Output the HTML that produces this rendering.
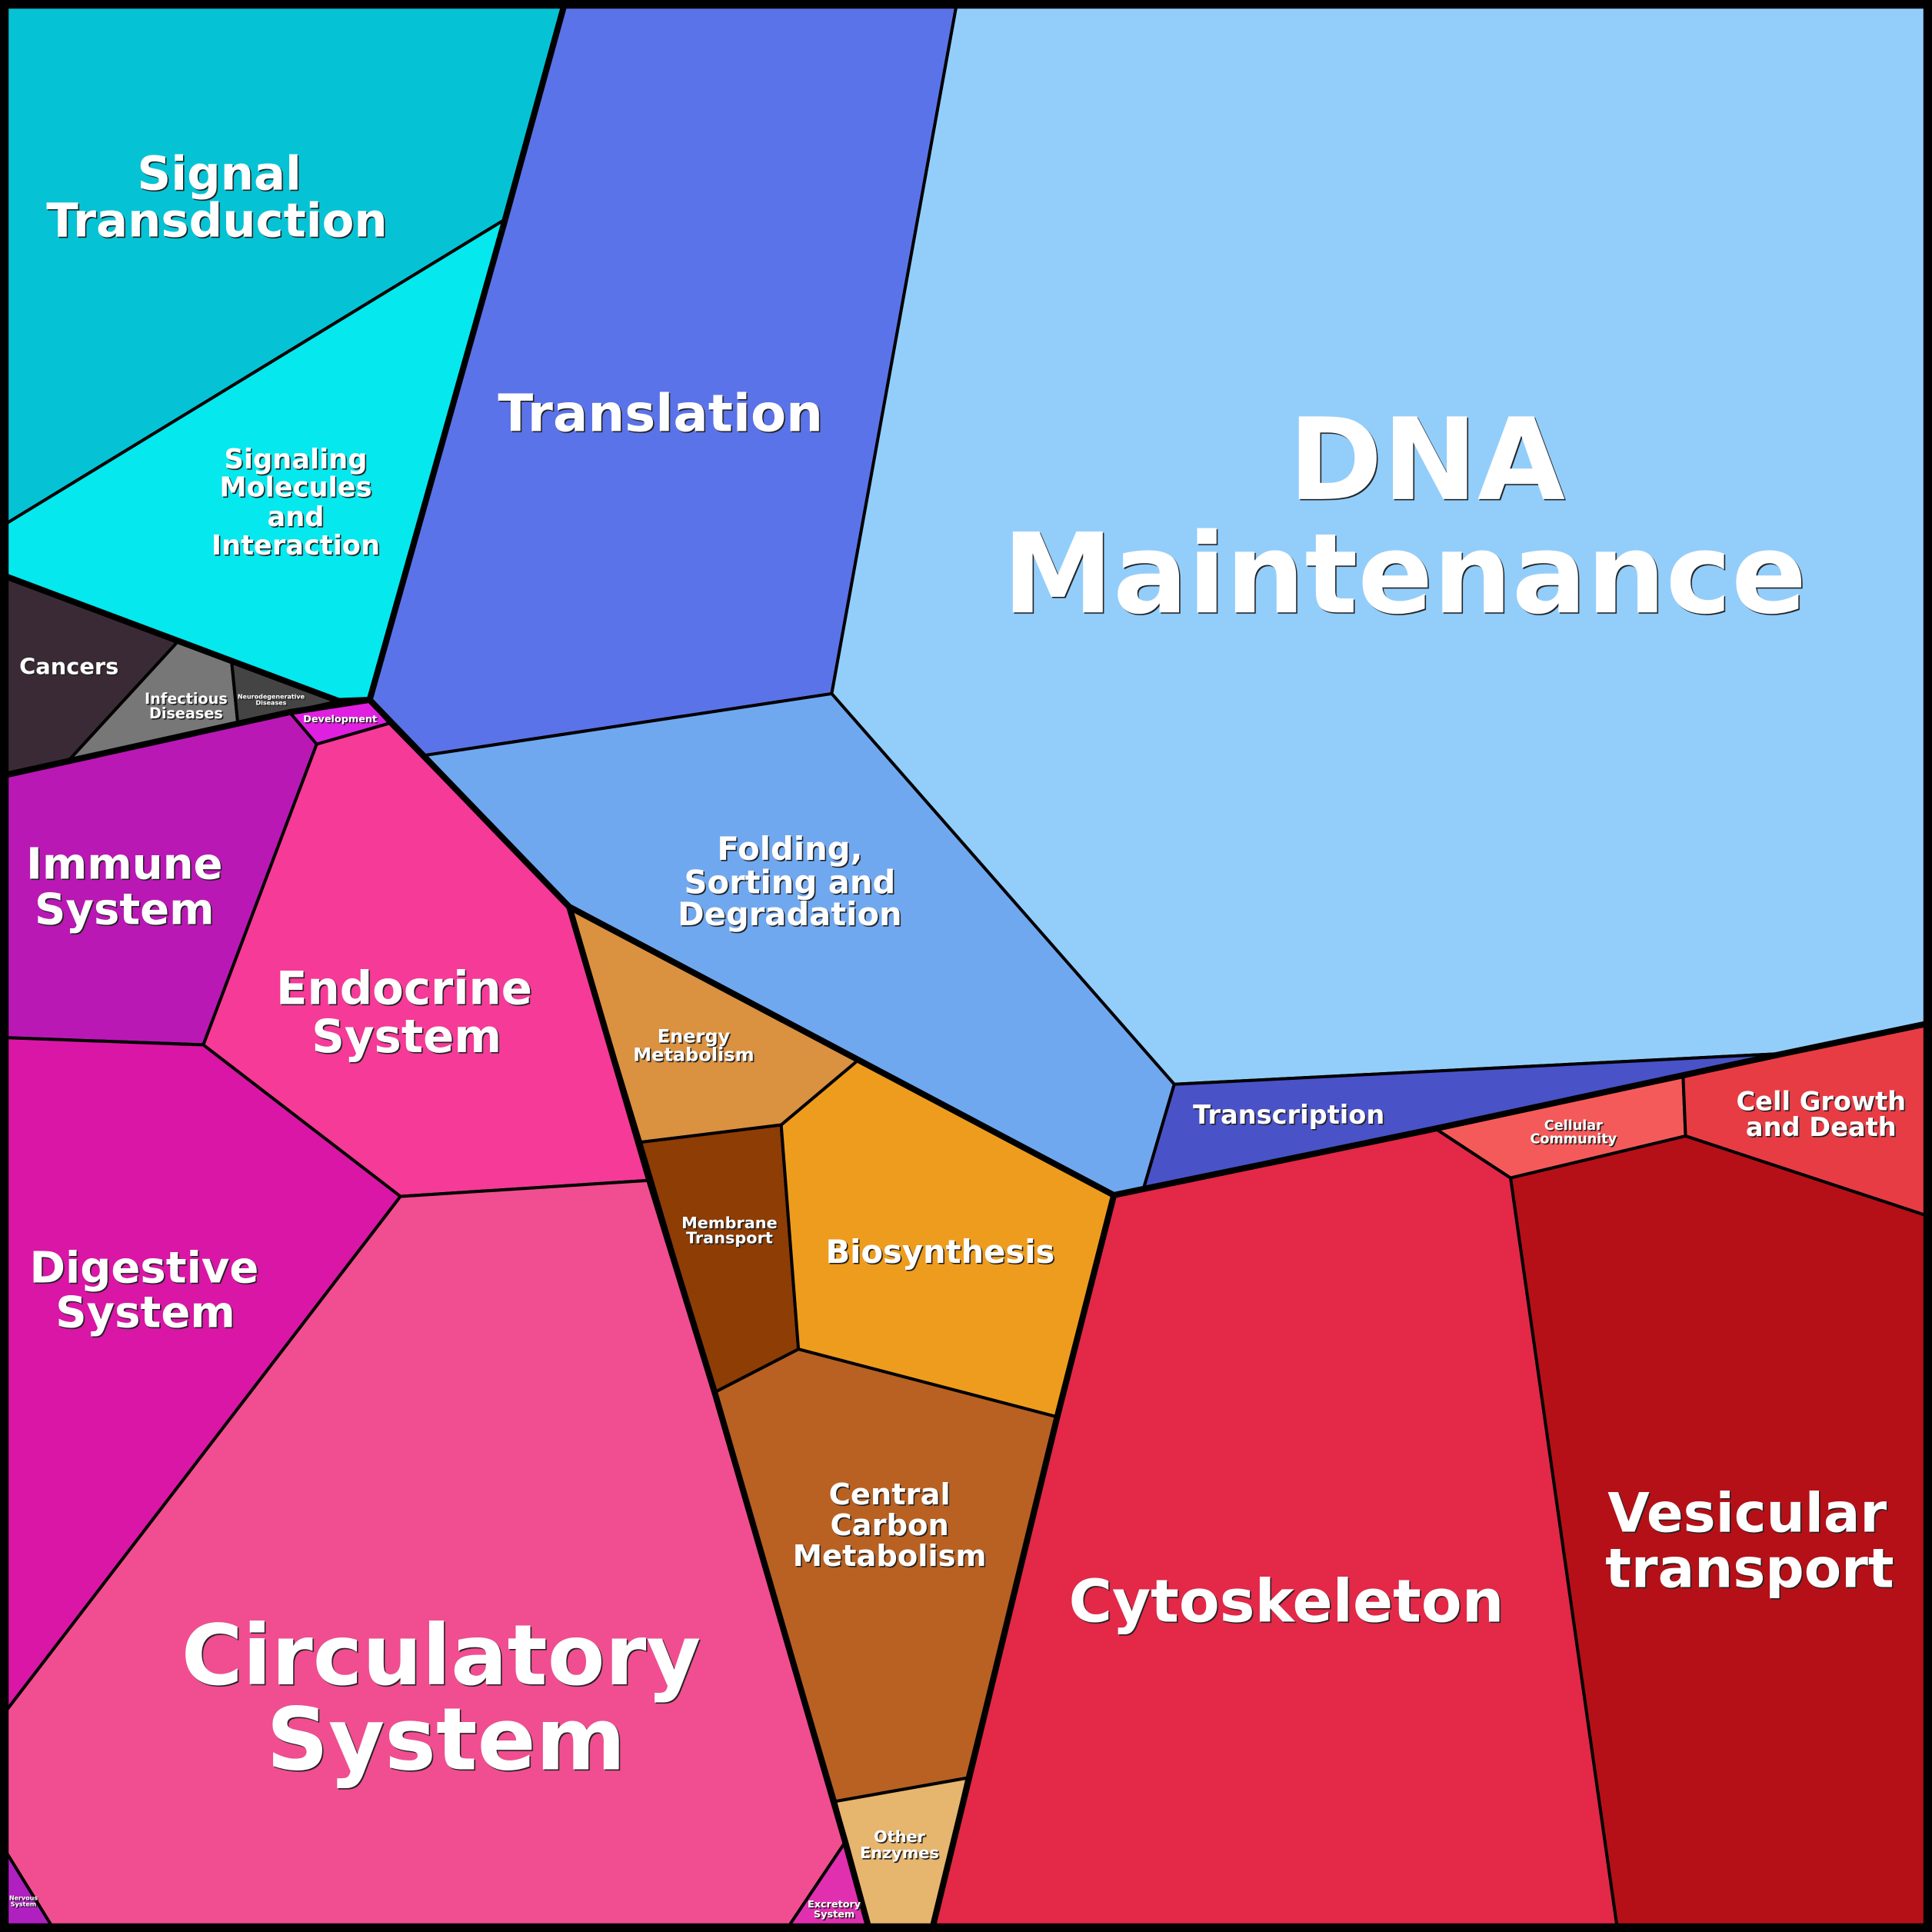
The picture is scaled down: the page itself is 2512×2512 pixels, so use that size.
<!DOCTYPE html>
<html><head><meta charset="utf-8"><style>
html,body{margin:0;padding:0;background:#000}
svg{display:block}
text{font-family:"DejaVu Sans","Liberation Sans",sans-serif;font-weight:bold;fill:#fff;text-anchor:middle}
.t{filter:drop-shadow(1.5px 1.5px 0 #222)}
</style></head><body>
<svg width="2512" height="2512" viewBox="0 0 1568 1568" xmlns="http://www.w3.org/2000/svg">
<g stroke="#000" stroke-width="2.5" stroke-linejoin="round">
<polygon fill="#05c3d5" points="0,0 459,0 410,178 0,428"/>
<polygon fill="#05e8ee" points="0,428 410,178 300,568 275,569 0,466"/>
<polygon fill="#3a2a35" points="0,466 145,520 55,618 0,630"/>
<polygon fill="#777777" points="145,520 188,537 193,587 55,618"/>
<polygon fill="#444444" points="188,537 275,569 235,578 193,587"/>
<polygon fill="#e020e0" points="235,578 300,568 316,587 257,604"/>
<polygon fill="#b918b4" points="0,630 235,578 257,604 165,848 0,842"/>
<polygon fill="#f53a98" points="257,604 316,587 462,736 527,958 325,971 165,848"/>
<polygon fill="#d916a6" points="0,842 165,848 325,971 0,1395"/>
<polygon fill="#f04e90" points="325,971 527,958 580,1130 686,1495 637,1568 45,1568 0,1495 0,1395"/>
<polygon fill="#b020c0" points="0,1495 45,1568 0,1568"/>
<polygon fill="#e030b0" points="686,1495 706,1568 637,1568"/>
<polygon fill="#5b73e8" points="459,0 777,0 675,563 345,613 300,568 410,178"/>
<polygon fill="#93cefb" points="777,0 1568,0 1568,830 1448,855 953,880 675,563"/>
<polygon fill="#70a8f0" points="345,613 675,563 953,880 928,965 904,970 697,860 462,736"/>
<polygon fill="#da9140" points="462,736 697,860 634,913 520,927"/>
<polygon fill="#8e3d05" points="520,927 634,913 648,1095 580,1130"/>
<polygon fill="#ee9c1e" points="634,913 697,860 904,970 858,1150 648,1095"/>
<polygon fill="#b86122" points="580,1130 648,1095 858,1150 785,1443 678,1462"/>
<polygon fill="#e6b56e" points="678,1462 785,1443 756,1568 706,1568"/>
<polygon fill="#4a52c8" points="953,880 1448,855 1165,916 928,965"/>
<polygon fill="#e32848" points="904,970 928,965 1165,916 1226,956 1313,1568 756,1568 858,1150"/>
<polygon fill="#f55a5a" points="1165,916 1366,874 1368,922 1226,956"/>
<polygon fill="#e83c44" points="1366,874 1448,855 1568,830 1568,988 1368,922"/>
<polygon fill="#b51018" points="1226,956 1368,922 1568,988 1568,1568 1313,1568"/>
</g>
<g stroke="#000" stroke-width="5" fill="none" stroke-linejoin="round">
<polyline points="459,0 410,178 300,568 462,736 527,958 580,1130 686,1495 706,1568"/>
<polyline points="0,466 275,569 300,568"/>
<polyline points="0,630 235,578 300,568"/>
<polyline points="462,736 904,970 858,1150 756,1568"/>
<polyline points="904,970 928,965 1165,916 1448,855 1568,830"/>
<rect x="3" y="3" width="1562" height="1562" stroke-width="8"/>
</g>
<g class="t">
<text x="1158" y="405" font-size="92">DNA</text>
<text x="1140" y="497" font-size="90">Maintenance</text>
<text x="358" y="1367" font-size="68">Circulatory</text>
<text x="362" y="1436" font-size="70">System</text>
<text x="536" y="350" font-size="42">Translation</text>
<text x="1044" y="1316" font-size="48">Cytoskeleton</text>
<text x="1418" y="1243" font-size="44">Vesicular</text>
<text x="1420" y="1288" font-size="44">transport</text>
<text x="178" y="154" font-size="38">Signal</text>
<text x="176" y="192" font-size="38">Transduction</text>
<text x="328" y="815" font-size="37">Endocrine</text>
<text x="330" y="854" font-size="37">System</text>
<text x="101" y="713" font-size="35">Immune</text>
<text x="101" y="750" font-size="35">System</text>
<text x="117" y="1041" font-size="35">Digestive</text>
<text x="118" y="1077" font-size="35">System</text>
<text x="641" y="698" font-size="26">Folding,</text>
<text x="641" y="725" font-size="26">Sorting and</text>
<text x="641" y="751" font-size="26">Degradation</text>
<text x="240" y="380" font-size="22">Signaling</text>
<text x="240" y="403" font-size="22">Molecules</text>
<text x="240" y="427" font-size="22">and</text>
<text x="240" y="450" font-size="22">Interaction</text>
<text x="763" y="1025" font-size="26">Biosynthesis</text>
<text x="722" y="1221" font-size="24">Central</text>
<text x="722" y="1246" font-size="24">Carbon</text>
<text x="722" y="1271" font-size="24">Metabolism</text>
<text x="1046" y="912" font-size="21">Transcription</text>
<text x="1478" y="901" font-size="21">Cell Growth</text>
<text x="1478" y="922" font-size="21">and Death</text>
<text x="56" y="547" font-size="18">Cancers</text>
<text x="563" y="846" font-size="15">Energy</text>
<text x="563" y="861" font-size="15">Metabolism</text>
<text x="592" y="997" font-size="13">Membrane</text>
<text x="592" y="1009" font-size="13">Transport</text>
<text x="730" y="1495" font-size="13">Other</text>
<text x="730" y="1508" font-size="13">Enzymes</text>
<text x="151" y="571" font-size="12">Infectious</text>
<text x="151" y="583" font-size="12">Diseases</text>
<text x="1277" y="917" font-size="11">Cellular</text>
<text x="1277" y="928" font-size="11">Community</text>
<text x="276" y="586" font-size="8">Development</text>
<text x="220" y="567" font-size="5">Neurodegenerative</text>
<text x="220" y="572" font-size="5">Diseases</text>
<text x="677" y="1548" font-size="8">Excretory</text>
<text x="677" y="1556" font-size="8">System</text>
<text x="19" y="1542" font-size="5">Nervous</text>
<text x="19" y="1547" font-size="5">System</text>
</g>
</svg>
</body></html>
